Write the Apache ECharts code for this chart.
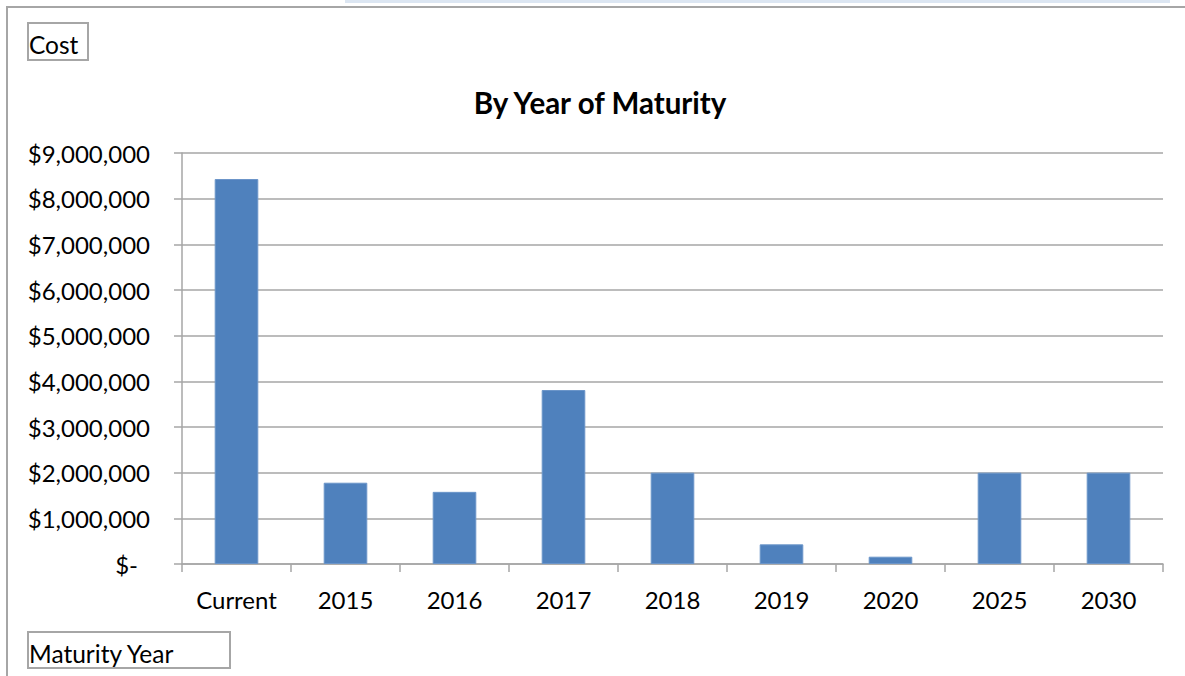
<!DOCTYPE html>
<html>
<head>
<meta charset="utf-8">
<script src="https://cdn.jsdelivr.net/npm/echarts@6/dist/echarts.min.js"></script>
<style>
html,body{margin:0;padding:0;background:#fff;}
#chart{width:1185px;height:676px;}
</style>
</head>
<body>
<div id="chart"></div>
<script>
var categories = ['Current','2015','2016','2017','2018','2019','2020','2025','2030'];
var costValues = [8430000, 1780000, 1580000, 3810000, 2000000, 430000, 160000, 2000000, 2000000];
var chartTitle = 'By Year of Maturity';
var yAxisName = 'Cost';
var xAxisName = 'Maturity Year';
var yMin = 0, yMax = 9000000, yStep = 1000000;

var FONT = 'Lato, "Open Sans", sans-serif';
var chart = echarts.init(document.getElementById('chart'), null, {renderer:'svg'});
var gray = '#a6a6a6';
chart.setOption({
  animation:false,
  backgroundColor:'#fff',
  grid:{left:182, right:22, top:153, bottom:112, containLabel:false},
  xAxis:{
    type:'category', data:categories,
    axisLine:{lineStyle:{color:gray, width:1.5}},
    axisTick:{show:true, length:8, alignWithLabel:false, lineStyle:{color:gray, width:1.5}},
    axisLabel:{color:'#000', fontFamily:FONT, fontSize:24, margin:23}
  },
  yAxis:{
    type:'value', min:yMin, max:yMax, interval:yStep,
    axisLine:{show:true, lineStyle:{color:gray, width:1.5}},
    axisTick:{show:true, length:8, lineStyle:{color:gray, width:1.5}},
    splitLine:{show:true, lineStyle:{color:gray, width:1.5}},
    axisLabel:{
      color:'#000', fontFamily:FONT, fontSize:24, margin:32,
      formatter:function(v){ return v===0 ? '{z|$-}' : '$' + v.toLocaleString('en-US'); },
      rich:{z:{color:'#000', fontFamily:FONT, fontSize:24, padding:[0,12,0,0]}}
    }
  },
  series:[{
    type:'bar', data:costValues, barWidth:'40%',
    itemStyle:{color:'#4F81BD', borderColor:'#6b95c9', borderWidth:1}
  }],
  graphic:[
    {type:'rect', shape:{x:345, y:0, width:825, height:3}, style:{fill:'#dce6f2'}},
    {type:'polyline', shape:{points:[[7,676],[7,7],[1185,7]]}, style:{stroke:gray, lineWidth:2, fill:null}},
    {type:'rect', shape:{x:28, y:23, width:60, height:37}, style:{fill:'#fff', stroke:gray, lineWidth:2}},
    {type:'text', x:29, y:44, style:{text:yAxisName, fill:'#000', font:'24.5px ' + FONT, textVerticalAlign:'middle', textAlign:'left'}},
    {type:'rect', shape:{x:28, y:632, width:202, height:36}, style:{fill:'#fff', stroke:gray, lineWidth:2}},
    {type:'text', x:29, y:653, style:{text:xAxisName, fill:'#000', font:'24.5px ' + FONT, textVerticalAlign:'middle', textAlign:'left'}},
    {type:'text', x:600, y:102, style:{text:chartTitle, fill:'#000', font:'bold 29.5px ' + FONT, textVerticalAlign:'middle', textAlign:'center'}}
  ]
});
</script>
</body>
</html>
